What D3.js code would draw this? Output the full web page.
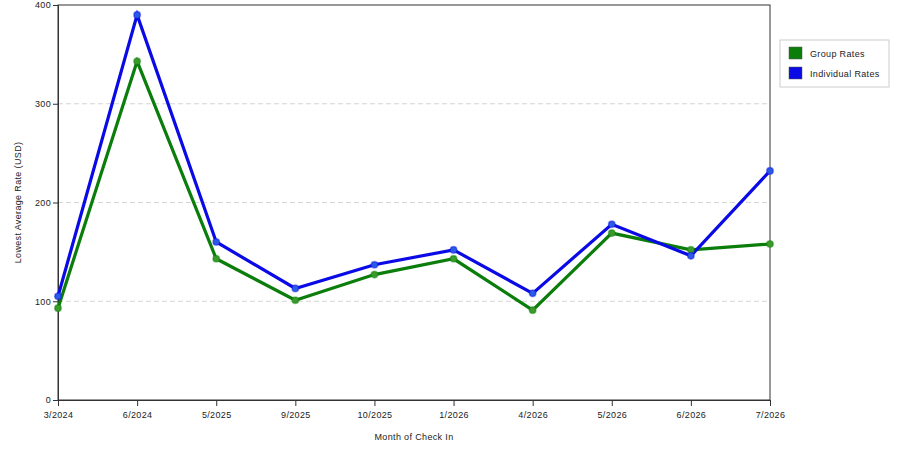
<!DOCTYPE html>
<html>
<head>
<meta charset="utf-8">
<script src="https://cdn.jsdelivr.net/npm/d3@7"></script>
<style>
  body { margin: 0; background: #fff; }
  text { font-family: "Liberation Sans", Arial, sans-serif; fill: #222; letter-spacing: 0.35px; }
</style>
</head>
<body>
<div id="container"></div>
<script>
const months = ['3/2024', '6/2024', '5/2025', '9/2025', '10/2025', '1/2026', '4/2026', '5/2026', '6/2026', '7/2026'];
const groupRates = [93, 343, 143, 101, 127, 143, 91, 169, 152, 158];
const individualRates = [105, 390, 160, 113, 137, 152, 108, 178, 146, 232];
const yTicks = [0, 100, 200, 300, 400];
const seriesNames = ['Group Rates', 'Individual Rates'];

const width = 900; const height = 450;
const margin = {top: 5, left: 58, right: 130, bottom: 50};

const svg = d3.select('#container').append('svg')
    .attr('width', width)
    .attr('height', height);

const x = d3.scalePoint().domain(months).range([margin.left, width - margin.right]);
const y = d3.scaleLinear().domain([0, 400]).range([height - margin.bottom, margin.top]);

// grid
svg.append('g').selectAll('line')
    .data(yTicks.filter((t) => t > 0 && t < 400))
    .enter().append('line')
    .attr('x1', margin.left).attr('x2', width - margin.right)
    .attr('y1', (d) => y(d)).attr('y2', (d) => y(d))
    .attr('stroke', '#d4d4d4').attr('stroke-dasharray', '5,3');

// frame
svg.append('rect')
    .attr('x', margin.left).attr('y', margin.top)
    .attr('width', width - margin.right - margin.left)
    .attr('height', height - margin.bottom - margin.top)
    .attr('fill', 'none').attr('stroke', '#333');

const xAxis = svg.append('g')
    .attr('transform', 'translate(0,' + (height - margin.bottom) + ')')
    .call(d3.axisBottom(x).tickSizeOuter(0).tickSize(6).tickPadding(6));
const yAxis = svg.append('g')
    .attr('transform', 'translate(' + margin.left + ',0)')
    .call(d3.axisLeft(y).tickValues(yTicks).tickSizeOuter(0).tickSize(5).tickPadding(2));

[xAxis, yAxis].forEach((a) => {
  a.select('.domain').attr('stroke', '#333');
  a.selectAll('.tick line').attr('stroke', '#333');
  a.selectAll('text').style('font-size', '9px').style('font-family', '"Liberation Sans", Arial, sans-serif').attr('fill', '#222');
});

svg.append('text')
    .attr('x', (margin.left + width - margin.right) / 2)
    .attr('y', 440)
    .attr('text-anchor', 'middle')
    .style('font-size', '9px')
    .text('Month of Check In');

svg.append('text')
    .attr('transform', 'translate(21,' + ((margin.top + height - margin.bottom) / 2) + ') rotate(-90)')
    .attr('text-anchor', 'middle')
    .style('font-size', '9px')
    .text('Lowest Average Rate (USD)');

const series = [
  {name: seriesNames[0], values: groupRates, color: '#0b7d0b', marker: '#3a9a2a'},
  {name: seriesNames[1], values: individualRates, color: '#0a0ae6', marker: '#2a5ae6'},
];

const line = d3.line().x((d, i) => x(months[i])).y((d) => y(d));

series.forEach((s) => {
  svg.append('path')
      .datum(s.values)
      .attr('fill', 'none')
      .attr('stroke', s.color)
      .attr('stroke-width', 3.2)
      .attr('stroke-linejoin', 'miter')
      .attr('d', line);
});

series.forEach((s) => {
  svg.append('g').selectAll('circle')
      .data(s.values)
      .enter().append('circle')
      .attr('cx', (d, i) => x(months[i]))
      .attr('cy', (d) => y(d))
      .attr('r', 3.3)
      .attr('fill', s.marker)
      .attr('stroke', s.color)
      .attr('stroke-opacity', 0.4)
      .attr('stroke-width', 1.5);
});

// legend
const legend = svg.append('g').attr('transform', 'translate(780,40)');
legend.append('rect')
    .attr('width', 109).attr('height', 47)
    .attr('fill', '#fff').attr('stroke', '#ccc');
series.forEach((s, i) => {
  legend.append('rect')
      .attr('x', 9).attr('y', 7 + i * 20)
      .attr('width', 13).attr('height', 12)
      .attr('fill', s.color).attr('stroke', '#555').attr('stroke-width', 0.5);
  legend.append('text')
      .attr('x', 30).attr('y', 17 + i * 20)
      .style('font-size', '9px')
      .text(s.name);
});
</script>
</body>
</html>
